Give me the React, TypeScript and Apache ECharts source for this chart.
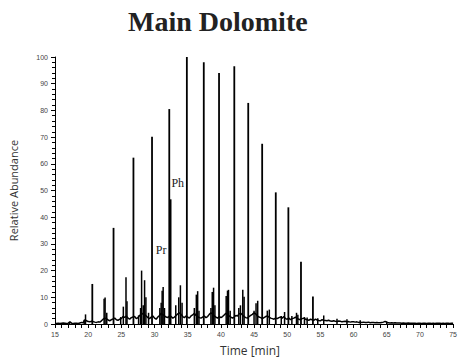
import React, { useEffect, useRef } from "react";
import * as echarts from "echarts";

const xTickLabels = [15, 20, 25, 30, 35, 40, 45, 50, 55, 60, 65, 70, 75];
const yTickLabels = [0, 10, 20, 30, 40, 50, 60, 70, 80, 90, 100];

// main n-alkane + major peaks: [time, relative abundance]
const majorPeaks: [number, number][] = [
  [20.6, 15], [23.8, 36], [26.8, 62.3], [29.6, 70.1], [32.2, 80.5], [32.4, 46.7],
  [34.85, 100], [37.4, 98], [39.7, 94], [42.0, 96.5], [44.1, 82.8], [46.2, 67.5],
  [48.25, 49.3], [50.15, 43.7], [52.05, 23.3], [53.85, 10.3],
];

// smaller peaks
const minorPeaks: [number, number][] = [
  [17.2, 0.8], [19.4, 1.6], [19.6, 3.6], [22.4, 9.5], [22.55, 9.9], [22.8, 4.2],
  [24.9, 2.6], [25.3, 6.5], [25.7, 17.5], [25.85, 8.5], [27.6, 3.2], [27.9, 6],
  [28.05, 20], [28.3, 7], [28.5, 16.4], [28.7, 10], [29.1, 4.2],
  [30.8, 6], [31.0, 8], [31.15, 12.5], [31.3, 13.9], [31.5, 6],
  [33.2, 7], [33.65, 10], [33.9, 14.5], [34.15, 8],
  [36.0, 6], [36.3, 11], [36.5, 12.3], [36.7, 5],
  [38.5, 6], [38.7, 12], [38.9, 13.6], [39.1, 7],
  [40.8, 10.5], [41.0, 12.5], [41.15, 12.8], [41.4, 5],
  [42.7, 6], [42.95, 7], [43.3, 12.8], [43.5, 10.2],
  [45.0, 5], [45.3, 7.8], [45.55, 8.7], [47.0, 5], [47.3, 5.4],
  [49.1, 3], [49.6, 4.5], [50.7, 3], [51.4, 4.2], [51.6, 3.5],
  [52.6, 2.6], [53.0, 2.4], [54.6, 2.2], [55.5, 3.2], [57.5, 2], [59.0, 1.8],
  [61.0, 1.4], [65.0, 1.0],
];

// baseline noise, one value every 0.25 min from 15 to 75
const noiseStart = 15;
const noiseStep = 0.25;
const noiseValues: number[] = [
  0.3, 0.2, 0.3, 0.2, 0.3, 0.4, 0.3, 0.2, 0.3, 0.8, 0.3, 0.2, 0.3, 0.3, 0.2, 0.4, 0.6, 0.5,
  1.5, 1.2, 0.9, 0.8, 1.0, 0.9,
  0.7, 0.6, 0.8, 0.7,
  1.2, 1.8, 2.2, 2.0,
  1.5, 1.2, 1.6, 1.9,
  2.2, 1.6, 1.4, 1.8,
  2.0, 2.8, 2.5, 3.0,
  2.2, 1.8, 2.4, 2.6,
  2.8, 2.0, 2.4, 3.2,
  3.5, 4.0, 3.5, 3.0,
  2.4, 2.0, 2.6, 3.0,
  2.2, 1.8, 2.6, 3.2,
  4.0, 3.5, 3.0, 2.6,
  2.4, 3.0, 2.8, 2.2,
  2.6, 3.2, 3.8, 4.2,
  3.6, 2.8, 2.4, 3.0,
  2.6, 2.2, 3.0, 3.4,
  4.0, 3.2, 2.8, 2.4,
  2.2, 2.6, 3.0, 2.4,
  2.8, 3.6, 4.2, 3.8,
  3.0, 2.6, 2.2, 2.8,
  2.4, 2.8, 3.4, 4.0,
  3.6, 3.0, 2.6, 2.2,
  2.6, 3.2, 3.0, 3.8,
  4.0, 3.4, 2.8, 2.4,
  2.2, 2.8, 3.2, 3.6,
  4.2, 3.8, 3.0, 2.6,
  2.4, 2.0, 2.4, 2.8,
  3.0, 2.6, 2.2, 2.0,
  1.8, 2.2, 2.0, 2.4,
  2.6, 2.2, 2.8, 2.0,
  1.8, 2.2, 1.6, 2.0,
  2.2, 2.6, 2.0, 1.8,
  1.6, 2.0, 2.2, 1.8,
  1.6, 1.4, 1.8, 1.6,
  1.4, 1.8, 1.5, 1.3,
  1.2, 1.6, 1.4, 1.3,
  1.2, 1.4, 1.1, 1.0,
  1.2, 1.0, 0.9, 1.1,
  1.0, 0.8, 0.9, 1.0,
  0.8, 0.9, 0.7, 0.8,
  0.8, 0.7, 0.8, 0.6,
  0.7, 0.6, 0.7, 0.6,
  0.6, 0.7, 0.5, 0.6,
  0.6, 0.5, 0.6, 0.5,
  0.5, 0.6, 0.7, 1.0,
  0.6, 0.5, 0.4, 0.5,
  0.4, 0.5, 0.4, 0.4,
  0.4, 0.3, 0.4, 0.3,
  0.3, 0.4, 0.3, 0.3,
  0.3, 0.3, 0.2, 0.3,
  0.3, 0.2, 0.3, 0.3,
  0.2, 0.3, 0.3, 0.2,
  0.3, 0.2, 0.3, 0.3,
  0.3, 0.2, 0.3, 0.2,
  0.3, 0.3, 0.2, 0.3,
  0.3,
];

const peakLabelNames = ["Pr", "Ph"];
const peakLabelPos: [number, number][] = [[31.0, 27.8], [33.5, 52.7]];

export default function App() {
  const ref = useRef<HTMLDivElement>(null);
  useEffect(() => {
    if (!ref.current) return;
    const chart = echarts.init(ref.current, null, { renderer: "svg" });
    const noiseData = noiseValues.map((v, i) => [noiseStart + i * noiseStep, v]);
    const titleGraphic = {
      type: "text",
      id: "title",
      left: 128,
      top: 7,
      style: {
        text: "Main Dolomite",
        font: "bold 28px 'Liberation Serif', 'Times New Roman', serif",
        fill: "#222",
      },
    };
    chart.setOption({
      animation: false,
      backgroundColor: "#fff",
      graphic: [titleGraphic],
      grid: { left: 55, right: 3, top: 57, bottom: 35, containLabel: false },
      xAxis: {
        type: "value",
        min: 15,
        max: 75,
        interval: 5,
        name: "Time [min]",
        nameLocation: "middle",
        nameGap: 20,
        nameTextStyle: { fontFamily: "Open Sans", fontSize: 12, color: "#333", padding: [0, 8, 0, 0] },
        axisLine: { lineStyle: { color: "#000", width: 1 } },
        axisTick: { show: true, length: 4, lineStyle: { color: "#000" } },
        minorTick: { show: true, splitNumber: 5, length: 4, lineStyle: { color: "#000" } },
        splitLine: { show: false },
        axisLabel: {
          fontFamily: "Liberation Sans",
          fontSize: 7,
          color: "#444",
          margin: 7,
          formatter: (v: number) => (xTickLabels.includes(v) ? String(v) : ""),
        },
      },
      yAxis: {
        type: "value",
        min: 0,
        max: 100,
        interval: 10,
        name: "Relative Abundance",
        nameLocation: "middle",
        nameGap: 36,
        nameTextStyle: { fontFamily: "Open Sans", fontSize: 11, color: "#333" },
        axisLine: { show: true, lineStyle: { color: "#000", width: 1 } },
        axisTick: { show: true, length: 4, lineStyle: { color: "#000" } },
        minorTick: { show: true, splitNumber: 5, length: 3, lineStyle: { color: "#000" } },
        splitLine: { show: false },
        axisLabel: {
          fontFamily: "Liberation Sans",
          fontSize: 7,
          color: "#444",
          margin: 7,
          formatter: (v: number) => (yTickLabels.includes(v) ? String(v) : ""),
        },
      },
      series: [
        {
          type: "line",
          data: noiseData,
          symbol: "none",
          lineStyle: { color: "#000", width: 1.5 },
          z: 3,
        },
        {
          type: "bar",
          data: majorPeaks,
          barWidth: 1.8,
          barGap: "-100%",
          itemStyle: { color: "#000" },
          z: 4,
        },
        {
          type: "bar",
          data: minorPeaks,
          barWidth: 1.5,
          barGap: "-100%",
          itemStyle: { color: "#000" },
          z: 4,
        },
      ],
    });
    const labelGraphics = peakLabelNames.map((name, i) => {
      const [px, py] = chart.convertToPixel({ gridIndex: 0 }, peakLabelPos[i]) as number[];
      return {
        type: "text",
        x: px,
        y: py,
        z: 10,
        style: {
          text: name,
          font: "12px 'Liberation Serif', 'Times New Roman', serif",
          fill: "#222",
          align: "center",
          verticalAlign: "middle",
        },
      };
    });
    chart.setOption({ graphic: [titleGraphic, ...labelGraphics] });
    return () => chart.dispose();
  }, []);
  return (
    <div
      ref={ref}
      style={{ position: "absolute", left: 0, top: 0, width: 460, height: 361 }}
    />
  );
}
